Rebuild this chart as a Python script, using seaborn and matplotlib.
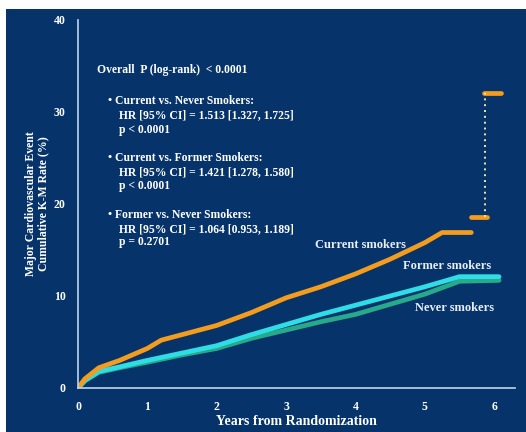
import seaborn as sns
import matplotlib.pyplot as plt
import pandas as pd
from matplotlib.patches import Rectangle

# Kaplan-Meier estimates (years, cumulative %)
current_years = [0, 0.1, 0.3, 0.6, 1.0, 1.2, 1.5, 2.0, 2.5, 3.0, 3.5, 4.0, 4.5, 5.0, 5.25, 5.67]
current_rate = [0, 1.0, 2.2, 3.0, 4.3, 5.2, 5.8, 6.8, 8.2, 9.8, 11.0, 12.4, 14.0, 15.8, 16.9, 16.9]
former_years = [0, 0.1, 0.3, 0.6, 1.0, 1.5, 2.0, 2.5, 3.0, 3.5, 4.0, 4.5, 5.0, 5.5, 6.07]
former_rate = [0, 0.8, 1.8, 2.3, 3.0, 3.8, 4.6, 5.8, 6.9, 8.0, 9.0, 10.0, 11.0, 12.1, 12.1]
never_years = [0, 0.1, 0.3, 0.6, 1.0, 1.5, 2.0, 2.5, 3.0, 3.5, 4.0, 4.5, 5.0, 5.5, 6.07]
never_rate = [0, 0.8, 1.7, 2.2, 2.8, 3.6, 4.3, 5.4, 6.3, 7.2, 8.0, 9.1, 10.2, 11.6, 11.7]
# late tail of the current smokers curve (few patients at risk)
tail_low = [5.67, 5.9, 18.6]
tail_high = [5.85, 6.1, 32.1]

x_ticks = [0, 1, 2, 3, 4, 5, 6]
y_ticks = [0, 10, 20, 30, 40]

stats_lines = [
    "Overall  P (log-rank)  < 0.0001",
    "\u2022 Current vs. Never Smokers:",
    "HR [95% CI] = 1.513 [1.327, 1.725]",
    "p < 0.0001",
    "\u2022 Current vs. Former Smokers:",
    "HR [95% CI] = 1.421 [1.278, 1.580]",
    "p < 0.0001",
    "\u2022 Former vs. Never Smokers:",
    "HR [95% CI] = 1.064 [0.953, 1.189]",
    "p = 0.2701",
]

df = pd.concat([
    pd.DataFrame({"years": current_years, "rate": current_rate, "group": "Current smokers"}),
    pd.DataFrame({"years": former_years, "rate": former_rate, "group": "Former smokers"}),
    pd.DataFrame({"years": never_years, "rate": never_rate, "group": "Never smokers"}),
])

navy = "#06346A"
axis_col = "#BFD6EA"
palette = {"Current smokers": "#F39C1E", "Former smokers": "#2FDDE6", "Never smokers": "#27A98A"}

sns.set_style("white")
plt.rcParams["font.family"] = ["Liberation Serif", "DejaVu Serif"]

fig = plt.figure(figsize=(5.26, 4.32), dpi=100, facecolor="white")
fig.patches.append(Rectangle((6 / 526, 0), 1, 1 - 9 / 432, transform=fig.transFigure,
                             facecolor=navy, edgecolor="none", zorder=-10))
ax = fig.add_axes([78 / 526, 1 - 388 / 432, (515 - 78) / 526, (388 - 20) / 432])
ax.set_facecolor(navy)
ax.patch.set_alpha(0)

# draw never first so the brighter lines sit on top
for grp in ["Never smokers", "Former smokers", "Current smokers"]:
    sns.lineplot(data=df[df["group"] == grp], x="years", y="rate", color=palette[grp],
                 linewidth=3.4, ax=ax, legend=False, estimator=None, sort=False)

ax.plot([tail_low[0], tail_low[1]], [tail_low[2], tail_low[2]], color=palette["Current smokers"], lw=3.4)
ax.plot([tail_high[0], tail_high[1]], [tail_high[2], tail_high[2]], color=palette["Current smokers"], lw=3.4)
ax.plot([tail_high[0] + 0.02, tail_high[0] + 0.02], [tail_low[2], tail_high[2]],
        color="#F2E7A0", lw=1.4, linestyle=(0, (1, 2)))

ax.set_xlim(0, 6.3)
ax.set_ylim(0, 40)
ax.set_xticks(x_ticks)
ax.set_yticks(y_ticks)
ax.tick_params(colors="white", labelsize=8.5, length=3, width=1, color=axis_col, pad=6)
for lab in ax.get_xticklabels() + ax.get_yticklabels():
    lab.set_fontweight("bold")
for s in ["top", "right"]:
    ax.spines[s].set_visible(False)
for s in ["left", "bottom"]:
    ax.spines[s].set_color(axis_col)
    ax.spines[s].set_linewidth(1.2)

ax.set_xlabel("Years from Randomization", color="white", fontsize=10, fontweight="bold", labelpad=2)
ax.set_ylabel("Major Cardiovascular Event\nCumulative K-M Rate (%)", color="white",
              fontsize=8.5, fontweight="bold", labelpad=3, linespacing=1.1)

# statistics block
y_pos = [70, 101, 115, 130, 158, 172, 186, 215, 229, 242]
x_pos = [97, 108, 119, 119, 108, 119, 119, 108, 119, 119]
for txt, xp, yp in zip(stats_lines, x_pos, y_pos):
    fig.text(xp / 526, 1 - yp / 432, txt, color="white", fontsize=8.4,
             fontweight="bold", va="center", ha="left")

# curve labels
ax.text(4.07, (388 - 245) / 9.2, "Current smokers", color="#E8EEF6", fontsize=9, fontweight="bold",
        ha="center", va="center")
ax.text(5.32, (388 - 266) / 9.2, "Former smokers", color="#E8EEF6", fontsize=9, fontweight="bold",
        ha="center", va="center")
ax.text(5.43, (388 - 308) / 9.2, "Never smokers", color="#E8EEF6", fontsize=9, fontweight="bold",
        ha="center", va="center")

fig.savefig("out.png", dpi=100, facecolor="white")
